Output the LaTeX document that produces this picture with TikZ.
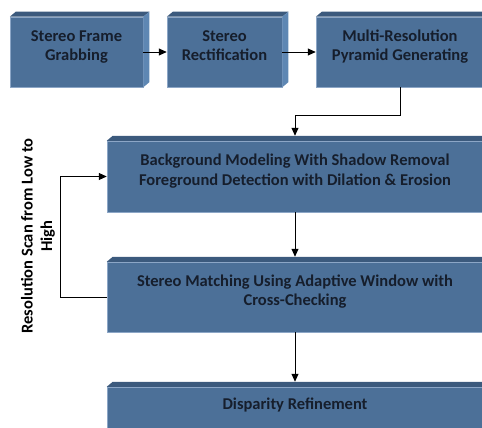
\documentclass[tikz,border=0pt]{standalone}
\usepackage{fontspec}
\setmainfont{Carlito}
\usetikzlibrary{arrows.meta}

\definecolor{boxfront}{HTML}{4C7098}
\definecolor{boxtop}{HTML}{3C5A7D}
\definecolor{boxside}{HTML}{5E87B3}
\definecolor{boxedge}{HTML}{8CA6C6}
\definecolor{boxtext}{HTML}{161E2C}

% box text sits a little above the middle of the front face
\newcommand{\stagetext}[1]{\raisebox{5pt}[\height][\depth]{\begin{tabular}{@{}c@{}}#1\end{tabular}}}

\tikzset{
  stage/.style={fill=boxfront, draw=boxedge, line width=0.5pt, inner sep=0pt,
    text=boxtext, font=\bfseries\fontsize{16.5}{19.5}\selectfont},
  flow/.style={draw=black, line width=0.9pt, -{Triangle[length=8pt,width=7pt]}}
}

\begin{document}
\begin{tikzpicture}[x=1pt, y=-1pt]
\useasboundingbox (0,0) rectangle (482,428);
\clip (0,0) rectangle (482,428);

% front faces
\node[stage, minimum width=133pt, minimum height=70pt] (grab) at (76.5, 52) {\stagetext{Stereo Frame\\Grabbing}};
\node[stage, minimum width=115pt, minimum height=70pt] (rect) at (224.5, 52) {\stagetext{Stereo\\Rectification}};
\node[stage, minimum width=168pt, minimum height=70pt] (pyr) at (400, 52) {\stagetext{Multi-Resolution\\Pyramid Generating}};
\node[stage, minimum width=376pt, minimum height=71pt] (bgm) at (295, 176.5) {\stagetext{Background Modeling With Shadow Removal\\Foreground Detection with Dilation \& Erosion}};
\node[stage, minimum width=376pt, minimum height=70pt] (match) at (295, 297) {\stagetext{Stereo Matching Using Adaptive Window with\\Cross-Checking}};
\node[stage, minimum width=376pt, minimum height=48pt] (refine) at (295, 411) {\stagetext{Disparity Refinement}};

% top and side faces
\foreach \n in {grab, rect, pyr, bgm, match, refine} {
  \fill[boxtop] (\n.north west) -- ++(6,-5) -- ([shift={(6,-5)}]\n.north east) -- (\n.north east) -- cycle;
  \fill[boxside] (\n.north east) -- ++(6,-5) -- ([shift={(6,-5)}]\n.south east) -- (\n.south east) -- cycle;
}

\node[rotate=90, align=center, text=black, font=\bfseries\fontsize{16.5}{19.5}\selectfont] (scan) at (38, 236) {Resolution Scan from Low to\\High};

\draw[flow] (grab.east) -- (rect.west);
\draw[flow] (rect.east) -- (pyr.west);
\draw[flow] (pyr.south) -- ++(0,28) -| ([yshift=5pt]bgm.north);
\draw[flow] (bgm.south) -- ([yshift=5pt]match.north);
\draw[flow] (match.south) -- ([yshift=5pt]refine.north);
\draw[flow] (match.west) -- ++(-46,0) |- (bgm.west);

\end{tikzpicture}
\end{document}
